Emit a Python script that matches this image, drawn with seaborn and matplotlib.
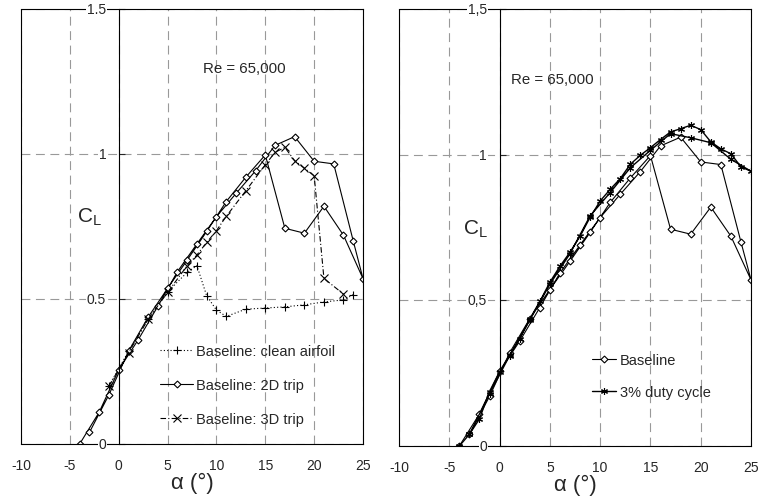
import seaborn as sns
import matplotlib.pyplot as plt

# baseline / 2D trip: sweep up on even angles, back down on odd angles
base_alpha = [-4, -2, 0, 2, 4, 6, 8, 10, 12, 14, 16, 18, 20, 22, 24, 25,
              23, 21, 19, 17, 15, 13, 11, 9, 7, 5, 3, 1, -1, -3]
base_cl = [0.0, 0.11, 0.256, 0.36, 0.475, 0.594, 0.69, 0.784, 0.864, 0.942,
           1.03, 1.06, 0.975, 0.966, 0.70, 0.57,
           0.72, 0.82, 0.727, 0.744, 0.997, 0.92, 0.836, 0.733, 0.634,
           0.537, 0.437, 0.32, 0.17, 0.04]

clean_alpha = [-1, 1, 3, 5, 7, 8, 9, 10, 11, 13, 15, 17, 19, 21, 23, 24]
clean_cl = [0.20, 0.32, 0.43, 0.525, 0.592, 0.615, 0.511, 0.462, 0.44,
            0.465, 0.469, 0.473, 0.48, 0.49, 0.497, 0.515]

trip3d_alpha = [-1, 1, 3, 5, 7, 8, 9, 10, 11, 13, 15, 16, 17, 18, 19, 20, 21, 23]
trip3d_cl = [0.20, 0.315, 0.43, 0.523, 0.615, 0.652, 0.695, 0.736, 0.785,
             0.873, 0.963, 1.006, 1.023, 0.977, 0.951, 0.925, 0.571, 0.517]

# 3% duty cycle: every degree going up, odd degrees coming back down
duty_alpha = [-4, -3, -2, -1, 0, 1, 2, 3, 4, 5, 6, 7, 8, 9, 10, 11, 12, 13,
              14, 15, 16, 17, 18, 19, 20, 21, 22, 23, 24, 25,
              23, 21, 19, 17, 15, 13, 11, 9, 7, 5, 3, 1, -1, -3]
duty_cl = [0.0, 0.04, 0.093, 0.187, 0.255, 0.313, 0.368, 0.436, 0.496,
           0.562, 0.617, 0.665, 0.72, 0.785, 0.841, 0.881, 0.918, 0.967,
           0.998, 1.024, 1.052, 1.078, 1.089, 1.101, 1.086, 1.044, 1.02,
           1.003, 0.958, 0.943,
           0.984, 1.041, 1.058, 1.072, 1.015, 0.955, 0.87, 0.79, 0.66,
           0.555, 0.432, 0.31, 0.18, 0.04]

xticks = [-10, -5, 0, 5, 10, 15, 20, 25]
yticks_left = [(0, '0'), (0.5, '0.5'), (1, '1'), (1.5, '1.5')]
yticks_right = [(0, '0'), (0.5, '0,5'), (1, '1'), (1.5, '1,5')]

sns.set_style("white")
plt.rcParams['font.family'] = ['Liberation Sans', 'DejaVu Sans']
plt.rcParams['mathtext.fontset'] = 'custom'
plt.rcParams['mathtext.rm'] = 'Liberation Sans'
plt.rcParams['axes.unicode_minus'] = False

fig = plt.figure(figsize=(7.59, 5.02), dpi=100)
ax1 = fig.add_axes([0.0277, 0.1135, 0.4506, 0.8665])
ax2 = fig.add_axes([0.5257, 0.1096, 0.4638, 0.8705])


def series(ax, x, y, label, marker, ls, ms, lw=0.8, mew=0.8):
    sns.lineplot(x=x, y=y, ax=ax, sort=False, estimator=None, color='black',
                 linewidth=lw, linestyle=ls, marker=marker, markersize=ms,
                 markerfacecolor='white', markeredgecolor='black',
                 markeredgewidth=mew, label=label)


def frame(ax, yticks, cl_pos, re_pos):
    ax.set_xlim(-10, 25)
    ax.set_ylim(0, 1.5)
    ax.set_xticks(xticks)
    ax.set_xticklabels([str(t) for t in xticks], fontsize=10)
    ax.set_yticks([v for v, _ in yticks])
    ax.tick_params(axis='y', direction='in', length=4, width=0.8,
                   labelleft=False, left=True)
    ax.tick_params(axis='x', length=0, pad=10)
    ax.grid(True, color='#999999', linestyle=(0, (8, 5)), linewidth=0.8)
    for s in ax.spines.values():
        s.set_visible(True)
        s.set_color('black')
        s.set_linewidth(0.8)
    ax.spines['left'].set_position(('data', 0))
    ax.axvline(-10, color='black', linewidth=0.8, clip_on=False)
    for v, lab in yticks:
        ax.annotate(lab, (0, v), xytext=(-9, 0), textcoords='offset points',
                    ha='right', va='center', fontsize=10, zorder=5,
                    bbox=dict(facecolor='white', edgecolor='none', pad=0.5))
    ax.set_xlabel('α (°)', fontsize=16, labelpad=0)
    ax.set_ylabel('')
    ax.text(cl_pos[0], cl_pos[1], r'$\mathregular{C_L}$', fontsize=15,
            ha='center', va='center')
    ax.text(re_pos[0], re_pos[1], 'Re = 65,000', fontsize=10.8,
            ha='center', va='center')


series(ax1, clean_alpha, clean_cl, 'Baseline: clean airfoil', '+', (0, (1, 2)), 6)
series(ax1, base_alpha, base_cl, 'Baseline: 2D trip', 'D', '-', 3.5)
series(ax1, trip3d_alpha, trip3d_cl, 'Baseline: 3D trip', 'x', (0, (5, 2, 1, 2)), 6)
frame(ax1, yticks_left, (-3.0, 0.786), (12.9, 1.297))
ax1.legend(loc='upper left', bbox_to_anchor=(0.406, 0.229), frameon=False,
           fontsize=10.5, handlelength=2.3, handletextpad=0.2,
           labelspacing=1.35, borderpad=0, borderaxespad=0)

series(ax2, base_alpha, base_cl, 'Baseline', 'D', '-', 3.5)
series(ax2, duty_alpha, duty_cl, '3% duty cycle', (6, 2, 0), '-', 5, lw=1.0)
frame(ax2, yticks_right, (-2.4, 0.746), (5.2, 1.258))
ax2.legend(loc='upper left', bbox_to_anchor=(0.547, 0.212), frameon=False,
           fontsize=10.5, handlelength=1.7, handletextpad=0.25,
           labelspacing=1.2, borderpad=0, borderaxespad=0)

fig.savefig('out.png', dpi=100)
